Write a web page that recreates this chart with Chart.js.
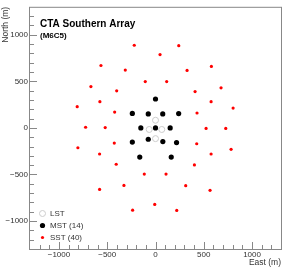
<!DOCTYPE html>
<html><head><meta charset="utf-8">
<script src="https://cdn.jsdelivr.net/npm/chart.js@4/dist/chart.umd.min.js"></script>
<style>html,body{margin:0;padding:0;background:#fff;}canvas{display:block;}</style>
</head><body>
<canvas id="c" width="287" height="278"></canvas>
<script>
const titleText = "CTA Southern Array";
const subtitleText = "(M6C5)";
const seriesLabels = ["LST", "MST (14)", "SST (40)"];
const xAxisTitle = "East (m)";
const yAxisTitle = "North (m)";
const tickValues = [-1000, -500, 0, 500, 1000];
const axisMin = -1300, axisMax = 1300, minorStep = 100;

const lstEast  = [0, -65, 65, 0];
const lstNorth = [82, -17, -17, -115];

const mstEast  = [0, -240, -75, 75, 240, -152, 0, 152, -75, 76, -240, 218, -163, 163];
const mstNorth = [310, 155, 150, 150, 154, 0, 0, 0, -122, -147, -152, -157, -313, -313];

const sstEast  = [-220, -565, -313, -106, -669, -402, -576, -811, -423, -724, -521,
                  241, 47, 579, 327, 116, 679, 410, 576, 804, 430, 524, 728,
                  -804, -427, -579, -407, -116, -327, -579, -237,
                  427, 783, 576, 403, 109, 313, 565, -8, 220];
const sstNorth = [887, 670, 621, 497, 444, 398, 281, 228, 170, 7, 4,
                  883, 787, 660, 617, 497, 430, 390, 281, 213, 160, -6, -6,
                  -213, -163, -280, -390, -496, -617, -660, -883,
                  -170, -230, -280, -397, -496, -620, -670, -822, -886];

const FONT = '"Liberation Sans", Arial, Helvetica, sans-serif';
const TXT = '#333333';
const FRAME = '#888888';

function pts(xs, ys) { return xs.map((v, i) => ({x: v, y: ys[i]})); }
function fmt(v) { return v < 0 ? '\u2212' + Math.abs(v) : String(v); }

const framePlugin = {
  id: 'frameTicks',
  beforeDatasetsDraw(chart) {
    const {ctx, chartArea: a, scales: {x, y}} = chart;
    ctx.save();
    ctx.strokeStyle = FRAME; ctx.lineWidth = 1;
    ctx.strokeRect(a.left - 0.5, a.top + 0.5, a.right - a.left + 1, a.bottom - a.top);
    ctx.beginPath();
    for (let v = axisMin + minorStep; v < axisMax; v += minorStep) {
      const len = (v % 500 === 0) ? 7 : 4;
      const py = Math.round(y.getPixelForValue(v)) + 0.5;
      ctx.moveTo(a.left, py); ctx.lineTo(a.left + len, py);
      const px = Math.round(x.getPixelForValue(v)) + 0.5;
      ctx.moveTo(px, a.bottom); ctx.lineTo(px, a.bottom - len);
    }
    ctx.stroke();
    ctx.restore();
  },
  afterDraw(chart) {
    const {ctx, chartArea: a} = chart;
    ctx.save();
    ctx.fillStyle = '#000';
    ctx.textBaseline = 'alphabetic';
    ctx.textAlign = 'left';
    ctx.font = 'bold 10px ' + FONT;
    ctx.fillText(titleText, a.left + 10, 26.5);
    ctx.font = 'bold 8px ' + FONT;
    ctx.fillText(subtitleText, a.left + 10, 37.5);
    // legend
    const rows = [213, 225, 237];
    ctx.font = '8px ' + FONT;
    ctx.textBaseline = 'middle';
    chart.data.datasets.forEach((ds, i) => {
      const cx = a.left + 12.5, cy = rows[i] + 0.5;
      ctx.beginPath();
      ctx.arc(cx, cy, ds.pointRadius, 0, Math.PI * 2);
      if (ds.pointBackgroundColor && ds.pointBackgroundColor !== 'rgba(0,0,0,0)') {
        ctx.fillStyle = ds.pointBackgroundColor; ctx.fill();
      }
      if (ds.pointBorderWidth) {
        ctx.strokeStyle = ds.pointBorderColor; ctx.lineWidth = ds.pointBorderWidth; ctx.stroke();
      }
      ctx.fillStyle = TXT;
      ctx.fillText(ds.label, a.left + 20, cy);
    });
    ctx.restore();
  }
};

new Chart(document.getElementById('c'), {
  type: 'scatter',
  data: {
    datasets: [
      {label: seriesLabels[0], data: pts(lstEast, lstNorth), pointRadius: 3,
       pointBackgroundColor: 'rgba(0,0,0,0)', pointBorderColor: '#cccccc', pointBorderWidth: 1},
      {label: seriesLabels[1], data: pts(mstEast, mstNorth), pointRadius: 2.6,
       pointBackgroundColor: '#000000', pointBorderColor: '#000000', pointBorderWidth: 0},
      {label: seriesLabels[2], data: pts(sstEast, sstNorth), pointRadius: 1.6,
       pointBackgroundColor: '#ff0000', pointBorderColor: '#ff0000', pointBorderWidth: 0}
    ]
  },
  options: {
    responsive: false, animation: false, devicePixelRatio: 1, events: [],
    layout: {padding: {top: 4, right: 6, bottom: 0, left: 0}},
    plugins: {legend: {display: false}, tooltip: {enabled: false}, title: {display: false}},
    scales: {
      x: {
        type: 'linear', position: 'bottom', min: axisMin, max: axisMax,
        afterBuildTicks: s => { s.ticks = tickValues.map(v => ({value: v})); },
        afterFit: s => { s.height = 29; },
        grid: {display: false, drawTicks: false},
        border: {display: false},
        ticks: {autoSkip: false, maxRotation: 0, padding: 1, color: TXT,
                font: {family: FONT, size: 8}, callback: v => fmt(v)},
        title: {display: true, text: xAxisTitle, align: 'end', color: TXT,
                font: {family: FONT, size: 8.5}, padding: {top: 0, bottom: 10}}
      },
      y: {
        type: 'linear', position: 'left', min: axisMin, max: axisMax,
        afterBuildTicks: s => { s.ticks = tickValues.map(v => ({value: v})); },
        afterFit: s => { s.width = 30; },
        grid: {display: false, drawTicks: false},
        border: {display: false},
        ticks: {autoSkip: false, padding: 2, color: TXT,
                font: {family: FONT, size: 8}, callback: v => fmt(v)},
        title: {display: true, text: yAxisTitle, align: 'end', color: TXT,
                font: {family: FONT, size: 8.5}, padding: {top: 1, bottom: 0}}
      }
    }
  },
  plugins: [framePlugin]
});
</script>
</body></html>
